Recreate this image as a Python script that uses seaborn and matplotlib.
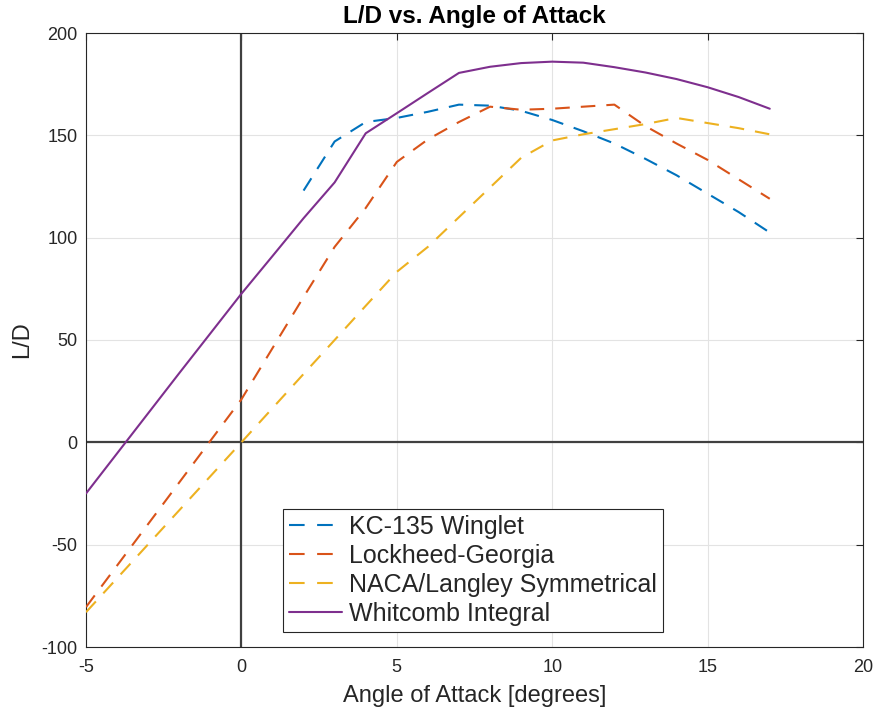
import matplotlib
matplotlib.use("Agg")
import matplotlib.pyplot as plt
import seaborn as sns
import pandas as pd

# Angle of attack grid (degrees)
angles = list(range(-5, 18))
kc_angles = list(range(2, 18))

# L/D values per winglet design
kc135_winglet = [123, 147, 156.5, 158.5, 161.5, 165, 164.5, 162, 157.5, 152,
                 146, 138.5, 130.5, 121.5, 112.5, 102.5]
lockheed_georgia = [-80.5, -60.2, -39.9, -19.6, 0.7, 21, 46, 71, 95.5, 114.5,
                    137, 148, 156.5, 164, 162.5, 163, 164, 165, 154.5, 146,
                    138, 128.5, 119]
naca_langley = [-83, -66.4, -49.8, -33.2, -16.6, 0, 16.7, 33.4, 50, 66.7,
                83.3, 95.5, 110, 124.5, 139, 147.5, 150.5, 153, 155.5, 158.5,
                156, 153.5, 150.5]
whitcomb = [-25, -5.4, 14.2, 33.8, 53.2, 72.6, 91, 109.5, 127, 151, 160.8,
            170.7, 180.5, 183.5, 185.3, 186, 185.5, 183.3, 180.7, 177.5,
            173.5, 168.7, 163]

names = ["KC-135 Winglet", "Lockheed-Georgia", "NACA/Langley Symmetrical",
         "Whitcomb Integral"]
colors = ["#0072BD", "#D95319", "#EDB120", "#7E2F8E"]

x_ticks = [-5, 0, 5, 10, 15, 20]
y_ticks = [-100, -50, 0, 50, 100, 150, 200]

frames = [
    pd.DataFrame({"angle": kc_angles, "ld": kc135_winglet, "wing": names[0]}),
    pd.DataFrame({"angle": angles, "ld": lockheed_georgia, "wing": names[1]}),
    pd.DataFrame({"angle": angles, "ld": naca_langley, "wing": names[2]}),
    pd.DataFrame({"angle": angles, "ld": whitcomb, "wing": names[3]}),
]
df = pd.concat(frames, ignore_index=True)

sns.set_style("white")
plt.rcParams["font.family"] = ["Liberation Sans", "DejaVu Sans"]
plt.rcParams["axes.unicode_minus"] = False

fig = plt.figure(figsize=(8.77, 7.10), dpi=100)
ax = fig.add_axes([86 / 877, 63 / 710, 777 / 877, 614 / 710])

dash = (0, (7.0, 5.3))
styles = [dash, dash, dash, "-"]
for name, color, ls in zip(names, colors, styles):
    sub = df[df["wing"] == name]
    sns.lineplot(data=sub, x="angle", y="ld", ax=ax, color=color,
                 linewidth=1.5, linestyle=ls, label=name, zorder=3)

# Reference axes through the origin
ax.axhline(0, color="#404040", linewidth=1.6, zorder=2)
ax.axvline(0, color="#404040", linewidth=1.6, zorder=2)

ax.set_xlim(-5, 20)
ax.set_ylim(-100, 200)
ax.set_xticks(x_ticks)
ax.set_yticks(y_ticks)
ax.grid(True, color="#e3e3e3", linewidth=0.8)
ax.set_axisbelow(True)

for sp in ax.spines.values():
    sp.set_color("#262626")
    sp.set_linewidth(0.8)
    sp.set_visible(True)

ax.tick_params(axis="both", direction="in", top=True, right=True, length=5,
               width=0.8, colors="#262626", labelsize=13)
ax.tick_params(axis="x", pad=9)
ax.tick_params(axis="y", pad=6)

ax.set_xlabel("Angle of Attack [degrees]", fontsize=17, color="#262626",
              labelpad=6)
ax.set_ylabel("L/D", fontsize=17, color="#262626", labelpad=6)
ax.set_title("L/D vs. Angle of Attack", fontsize=17.5, fontweight="bold",
             color="black", pad=7)

handles, labels = ax.get_legend_handles_labels()
leg = ax.legend(handles, labels, loc="lower left",
                bbox_to_anchor=((283 - 86) / 777, (647 - 632) / 614),
                borderaxespad=0, fontsize=18, frameon=True, fancybox=False,
                framealpha=1, edgecolor="#262626", borderpad=0.25,
                labelspacing=0.2, handlelength=2.1, handletextpad=0.3)
leg.get_frame().set_linewidth(0.8)
for line in leg.get_lines()[:3]:
    line.set_dashes((7.5, 6.0))

fig.savefig("out.png", dpi=100)
